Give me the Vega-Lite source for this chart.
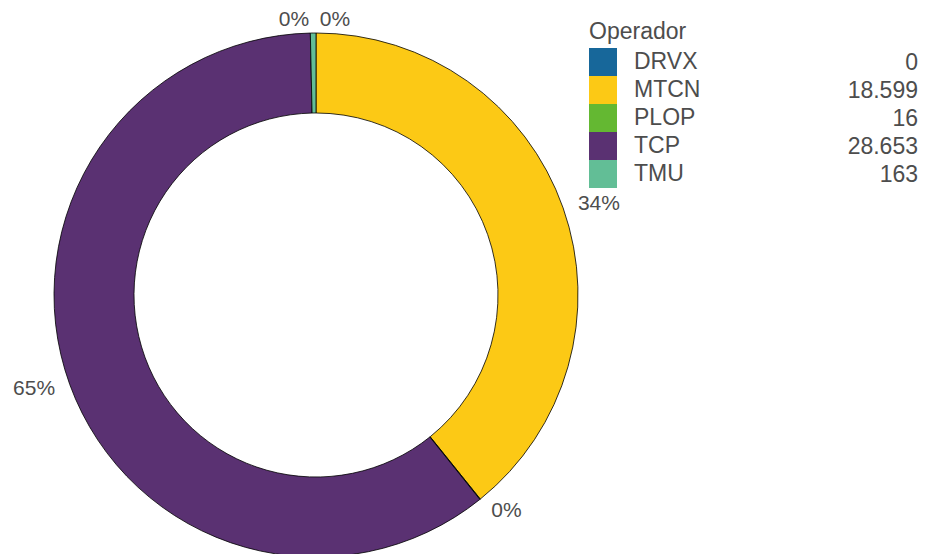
{
  "$schema": "https://vega.github.io/schema/vega-lite/v6.json",
  "width": 632,
  "height": 590,
  "autosize": {"type": "none"},
  "padding": {"left": 0, "top": 0, "right": 293, "bottom": 0},
  "background": "white",
  "config": {"view": {"stroke": null}, "font": "Liberation Sans"},
  "data": {
    "values": [
      {"Operador": "DRVX", "Valor": 0, "Etiqueta": "0", "Pct": "0%"},
      {"Operador": "MTCN", "Valor": 18599, "Etiqueta": "18.599", "Pct": "34%"},
      {"Operador": "PLOP", "Valor": 16, "Etiqueta": "16", "Pct": "0%"},
      {"Operador": "TCP", "Valor": 28653, "Etiqueta": "28.653", "Pct": "65%"},
      {"Operador": "TMU", "Valor": 163, "Etiqueta": "163", "Pct": "0%"}
    ]
  },
  "encoding": {
    "theta": {"field": "Valor", "type": "quantitative", "stack": true},
    "order": {"field": "Operador", "sort": "ascending"}
  },
  "layer": [
    {
      "mark": {"type": "arc", "outerRadius": 262, "innerRadius": 182, "stroke": "black", "strokeWidth": 0.8},
      "encoding": {
        "color": {
          "field": "Operador",
          "type": "nominal",
          "scale": {
            "domain": ["DRVX", "MTCN", "PLOP", "TCP", "TMU"],
            "range": ["#17679a", "#fcc915", "#64b832", "#5a3172", "#62be96"]
          },
          "legend": {
            "orient": "none",
            "legendX": 589,
            "legendY": 21,
            "title": "Operador",
            "titleFontSize": 23,
            "titleFontWeight": "normal",
            "titleColor": "#4d4d4d",
            "titleFont": "Liberation Sans",
            "titlePadding": 4,
            "labelFontSize": 23,
            "labelColor": "#4d4d4d",
            "labelFont": "Liberation Sans",
            "symbolType": "square",
            "symbolSize": 784,
            "symbolStrokeWidth": 0,
            "symbolOpacity": 1,
            "rowPadding": 0,
            "labelOffset": 17
          }
        },
        "opacity": {
          "field": "Etiqueta",
          "type": "ordinal",
          "scale": {"domain": ["0", "18.599", "16", "28.653", "163"], "range": [1, 1, 1, 1, 1]},
          "legend": {
            "orient": "none",
            "legendX": 890,
            "legendY": 49,
            "title": null,
            "labelFontSize": 23,
            "labelColor": "#4d4d4d",
            "labelFont": "Liberation Sans",
            "labelAlign": "right",
            "symbolType": "square",
            "symbolSize": 784,
            "symbolFillColor": "transparent",
            "symbolStrokeColor": "transparent",
            "symbolStrokeWidth": 0,
            "rowPadding": 0,
            "labelOffset": 0
          }
        }
      }
    },
    {
      "mark": {
        "type": "text",
        "radius": {"expr": "datum.Operador == 'DRVX' || datum.Operador == 'TMU' ? 275 : datum.Operador == 'PLOP' ? 285 : 300"},
        "dx": {"expr": "datum.Operador == 'DRVX' ? 19 : datum.Operador == 'TMU' ? -19 : datum.Operador == 'PLOP' ? 12 : 0"},
        "dy": {"expr": "datum.Operador == 'MTCN' ? 9 : datum.Operador == 'PLOP' ? -6 : datum.Operador == 'TCP' ? -8 : 0"},
        "fontSize": 21,
        "fill": "#4d4d4d",
        "font": "Liberation Sans"
      },
      "encoding": {"text": {"field": "Pct"}}
    }
  ]
}
